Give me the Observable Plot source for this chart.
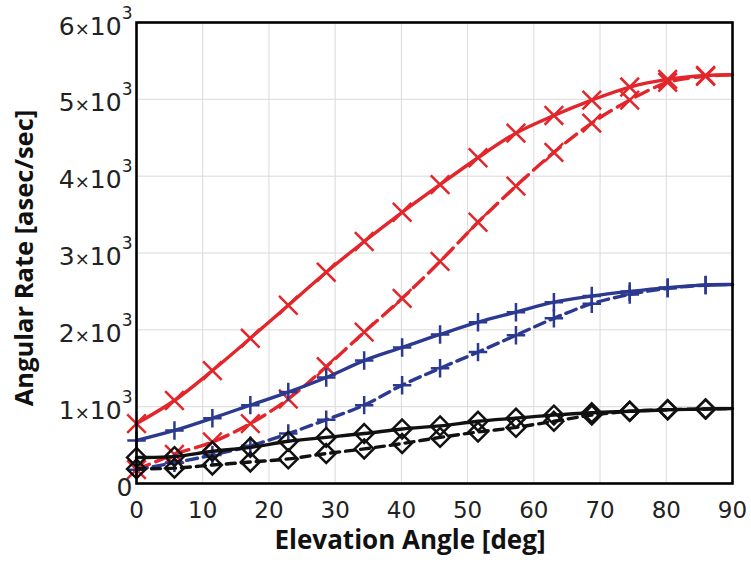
<!DOCTYPE html>
<html>
<head>
<meta charset="utf-8">
<script src="https://cdn.jsdelivr.net/npm/d3@7"></script>
<script src="https://cdn.jsdelivr.net/npm/@observablehq/plot@0.6"></script>
<style>
  body { margin: 0; background: #fff; }
  #chart svg { display: block; }
</style>
</head>
<body>
<div id="chart"></div>
<script>
// Elevation samples (deg): markers every 0.1 rad, plus the 90° end point
const elevation = [0, 5.73, 11.46, 17.19, 22.92, 28.65, 34.38, 40.11, 45.84, 51.57, 57.30, 63.03, 68.75, 74.48, 80.21, 85.94, 90];

// Angular rate (asec/sec) for each case
const redSolid    = [780, 1080, 1470, 1890, 2320, 2750, 3150, 3530, 3890, 4240, 4560, 4790, 4990, 5160, 5260, 5310, 5320];
const redDashed   = [180, 380, 540, 780, 1100, 1520, 1970, 2410, 2890, 3400, 3870, 4310, 4690, 4990, 5220, 5300, 5320];
const blueSolid   = [560, 690, 850, 1020, 1190, 1380, 1600, 1770, 1940, 2100, 2230, 2360, 2440, 2500, 2550, 2585, 2590];
const blueDashed  = [180, 270, 370, 490, 650, 830, 1020, 1280, 1500, 1710, 1930, 2150, 2340, 2460, 2540, 2580, 2590];
const blackSolid  = [340, 350, 420, 470, 550, 600, 650, 710, 750, 810, 850, 890, 920, 940, 960, 970, 975];
const blackDashed = [190, 200, 240, 280, 320, 390, 450, 520, 600, 670, 730, 810, 890, 940, 960, 970, 975];

const yTicks = [0, 1000, 2000, 3000, 4000, 5000, 6000];
const xTicks = [0, 10, 20, 30, 40, 50, 60, 70, 80, 90];

const series = [
  {values: redSolid,    color: "#e3262b", symbol: "times",    dash: null,    r: 8.5},
  {values: redDashed,   color: "#e3262b", symbol: "times",    dash: "14,7",  r: 8.5},
  {values: blueSolid,   color: "#2b3990", symbol: "plus",     dash: null,    r: 6},
  {values: blueDashed,  color: "#2b3990", symbol: "plus",     dash: "11,6",  r: 6},
  {values: blackSolid,  color: "#111111", symbol: "diamond2", dash: null,    r: 8.5},
  {values: blackDashed, color: "#111111", symbol: "diamond2", dash: "9,6",   r: 8.5}
];

const rows = s => elevation.map((e, i) => ({angle: e, rate: s.values[i]}));

const marks = [
  Plot.gridX(xTicks, {stroke: "#dadada", strokeOpacity: 1, strokeWidth: 1}),
  Plot.gridY(yTicks, {stroke: "#dadada", strokeOpacity: 1, strokeWidth: 1})
];

for (const s of series) {
  const data = rows(s);
  marks.push(Plot.line(data, {
    x: "angle", y: "rate", stroke: s.color, strokeWidth: 3.4,
    strokeDasharray: s.dash, curve: "catmull-rom"
  }));
  marks.push(Plot.dot(data.filter(d => d.angle < 90), {
    x: "angle", y: "rate", stroke: s.color, symbol: s.symbol,
    r: s.r, strokeWidth: 2.5, fill: "none"
  }));
}

marks.push(Plot.frame({stroke: "#000", strokeWidth: 2.6}));
marks.push(Plot.axisY(yTicks, {
  tickSize: 0, tickPadding: 4, label: null, dy: 4,
  fontSize: 25,
  tickFormat: d => d === 0 ? "0" : String(d / 1000)
}));
marks.push(Plot.axisX(xTicks, {
  tickSize: 0, tickPadding: 18, label: null, fontSize: 23,
  tickFormat: d => String(d)
}));

const chart = Plot.plot({
  width: 751,
  height: 568,
  marginLeft: 136,
  marginRight: 19,
  marginTop: 22,
  marginBottom: 85,
  x: {domain: [0, 90]},
  y: {domain: [0, 6000]},
  style: {fontFamily: "'DejaVu Sans', sans-serif", color: "#222", background: "#fff"},
  marks
});

const svg = d3.select(chart);

// Tick labels of the form n×10³ with a small times sign and raised exponent
svg.selectAll("g[aria-label='y-axis tick label'] text").each(function() {
  const t = d3.select(this);
  const n = t.text();
  if (n === "0") return;
  t.text(null);
  t.append("tspan").text(n);
  t.append("tspan").attr("font-size", 18).text("×");
  t.append("tspan").text("10");
  t.append("tspan").attr("font-size", 17).attr("dy", -16).text("3");
});

// Axis titles
svg.append("text")
  .attr("x", 410).attr("y", 549)
  .attr("text-anchor", "middle")
  .attr("font-family", "'Open Sans', sans-serif")
  .attr("font-weight", "bold")
  .attr("font-size", 26)
  .attr("fill", "#111")
  .text("Elevation Angle [deg]");

svg.append("text")
  .attr("transform", "translate(33,258) rotate(-90)")
  .attr("text-anchor", "middle")
  .attr("font-family", "'Open Sans', sans-serif")
  .attr("font-weight", "bold")
  .attr("font-size", 25.5)
  .attr("fill", "#111")
  .text("Angular Rate [asec/sec]");

document.getElementById("chart").appendChild(chart);
</script>
</body>
</html>
